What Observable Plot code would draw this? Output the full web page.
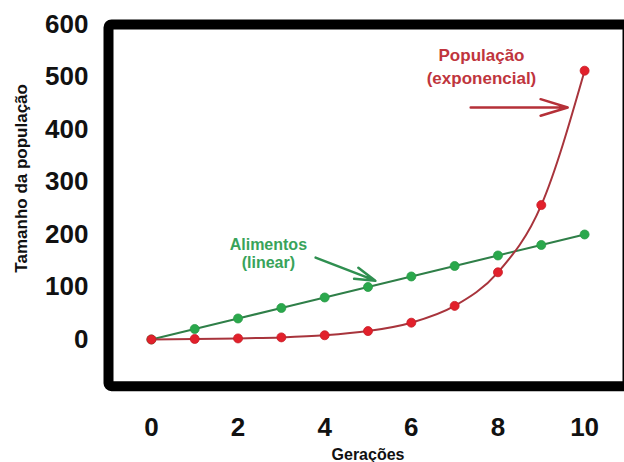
<!DOCTYPE html>
<html>
<head>
<meta charset="utf-8">
<script src="https://cdn.jsdelivr.net/npm/d3@7"></script>
<script src="https://cdn.jsdelivr.net/npm/@observablehq/plot@0.6"></script>
<style>
  html, body { margin: 0; padding: 0; background: #fff; }
  #chart svg { display: block; }
</style>
</head>
<body>
<div id="chart"></div>
<script>
// Data
const generations = [0, 1, 2, 3, 4, 5, 6, 7, 8, 9, 10];
const population = [0, 1, 2, 4, 8, 16, 32, 64, 128, 256, 512];
const food = [0, 20, 40, 60, 80, 100, 120, 140, 160, 180, 200];
const xTicks = [0, 2, 4, 6, 8, 10];
const yTicks = [0, 100, 200, 300, 400, 500, 600];
const xLabel = "Gerações";
const yLabel = "Tamanho da população";
const popLabel = ["População\n(exponencial)"];
const foodLabel = ["Alimentos\n(linear)"];
// annotation anchors (data units)
const popLabelPos = {x: 7.62, y: 523};
const foodLabelPos = {x: 2.70, y: 164};
const popArrow = [{x1: 7.37, y1: 442, x2: 9.61, y2: 442}];
const foodArrow = [{x1: 3.79, y1: 156, x2: 5.17, y2: 112}];

const popData = generations.map((g, i) => ({g, v: population[i]}));
const foodData = generations.map((g, i) => ({g, v: food[i]}));

const chart = Plot.plot({
  width: 624,
  height: 462,
  marginLeft: 108,
  marginTop: 24,
  marginBottom: 76.3,
  marginRight: -3,
  style: {fontFamily: "'Liberation Sans', Arial, sans-serif", fontWeight: "bold", color: "#111", background: "#fff"},
  x: {domain: [-0.99, 10.99], ticks: xTicks, label: null},
  y: {domain: [-89, 600], ticks: yTicks, label: null},
  marks: [
    Plot.axisY({ticks: yTicks, tickSize: 0, tickPadding: 20, fontSize: 26, fontWeight: "bold", label: null}),
    Plot.axisX({ticks: xTicks, tickSize: 0, tickPadding: 31, fontSize: 26, fontWeight: "bold", label: null}),
    Plot.line(foodData, {x: "g", y: "v", stroke: "#2f7f48", strokeWidth: 2}),
    Plot.dot(foodData, {x: "g", y: "v", r: 4.5, fill: "#2aa84c", stroke: "#2a9a46", strokeWidth: 0.8}),
    Plot.line(popData, {x: "g", y: "v", stroke: "#a8343c", strokeWidth: 2, curve: "monotone-x"}),
    Plot.dot(popData, {x: "g", y: "v", r: 4.5, fill: "#e2202b", stroke: "#c81c26", strokeWidth: 0.8}),
    Plot.arrow(popArrow, {x1: "x1", y1: "y1", x2: "x2", y2: "y2", stroke: "#b53038", strokeWidth: 2.5, headLength: 17, headAngle: 34}),
    Plot.arrow(foodArrow, {x1: "x1", y1: "y1", x2: "x2", y2: "y2", stroke: "#2f8f50", strokeWidth: 2.5, headLength: 14, headAngle: 32}),
    Plot.text(popLabel, {x: () => popLabelPos.x, y: () => popLabelPos.y, text: d => d, fill: "#c0353d", fontSize: 17, fontWeight: "bold", lineHeight: 1.35}),
    Plot.text(foodLabel, {x: () => foodLabelPos.x, y: () => foodLabelPos.y, text: d => d, fill: "#38a35a", fontSize: 16, fontWeight: "bold", lineHeight: 1.15}),
    Plot.text([yLabel], {frameAnchor: "left", textAnchor: "middle", lineAnchor: "middle", dx: -87, dy: -27, rotate: -90, text: d => d, fontSize: 17, fontWeight: "bold", fill: "#111"}),
    Plot.text([xLabel], {frameAnchor: "bottom", textAnchor: "middle", lineAnchor: "middle", dy: 68.5, text: d => d, fontSize: 16, fontWeight: "bold", fill: "#111"}),
    Plot.frame({stroke: "#000", strokeWidth: 10, rx: 3})
  ]
});
document.getElementById("chart").appendChild(chart);
</script>
</body>
</html>
